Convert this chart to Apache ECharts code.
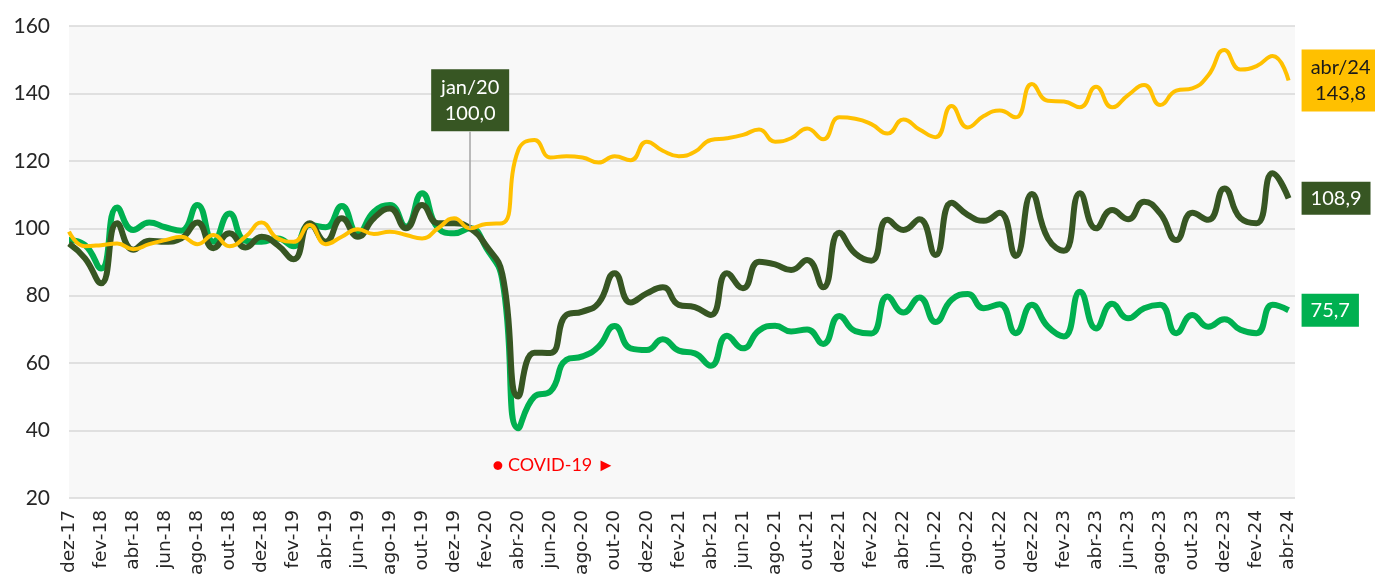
<!DOCTYPE html>
<html>
<head>
<meta charset="utf-8">
<script src="https://cdn.jsdelivr.net/npm/echarts@6/dist/echarts.min.js"></script>
<style>html,body{margin:0;padding:0;background:#fff;}#c{width:1375px;height:584px;}</style>
</head>
<body>
<div id="c"></div>
<script>
// Tick labels (every second month, dez-17 .. abr-24)
var tickLabels = ["dez-17","fev-18","abr-18","jun-18","ago-18","out-18","dez-18","fev-19","abr-19","jun-19","ago-19","out-19","dez-19","fev-20","abr-20","jun-20","ago-20","out-20","dez-20","fev-21","abr-21","jun-21","ago-21","out-21","dez-21","fev-22","abr-22","jun-22","ago-22","out-22","dez-22","fev-23","abr-23","jun-23","ago-23","out-23","dez-23","fev-24","abr-24"];

// Monthly index values (jan/20 = 100), dez-17 .. abr-24
var darkGreen = [95.5,91.1,83.7,101.5,93.6,96.3,96.0,97.0,101.7,94.1,98.5,94.3,97.5,95.0,90.8,101.5,96.0,103.0,97.5,103.0,105.9,100.0,106.9,101.5,101.5,100.0,94.8,86.5,50.1,63.1,63.0,74.3,75.3,77.8,86.7,78.0,80.7,82.5,77.3,76.6,74.3,86.7,82.2,90.1,89.3,87.6,90.6,82.5,98.7,92.5,90.4,102.5,99.5,102.7,92.1,107.6,104.0,102.2,104.6,91.8,110.2,97.0,93.3,110.4,100.0,105.4,102.7,107.9,104.4,96.5,104.6,102.5,111.8,103.0,101.5,116.3,108.9];
var brightGreen = [96.5,95.0,88.1,106.2,99.5,101.7,100.3,99.3,106.9,96.0,104.4,96.3,96.0,97.0,94.7,101.0,100.3,106.6,98.5,104.9,106.9,100.5,110.4,100.0,98.5,100.0,94.2,84.7,40.7,50.1,51.6,61.0,62.0,64.9,71.0,64.4,63.9,67.1,63.7,62.9,59.2,68.1,64.4,69.7,71.1,69.4,70.0,65.7,74.0,69.5,68.8,79.8,75.0,79.5,72.2,78.8,80.5,76.3,77.5,68.9,77.3,70.8,67.9,81.2,70.3,77.6,73.3,76.3,77.3,68.9,74.3,70.8,73.0,69.9,68.9,77.3,75.7];
var yellow = [99.0,94.7,95.0,95.5,93.8,95.3,96.5,97.5,95.3,98.0,94.7,97.5,101.7,97.0,96.0,101.0,95.3,97.5,99.7,98.3,99.0,98.0,97.0,100.0,103.0,100.0,101.3,101.5,123.2,126.2,121.0,121.4,121.0,119.5,121.4,120.2,125.7,123.0,121.4,122.7,126.2,126.7,127.7,129.3,125.7,126.7,129.6,126.4,132.9,132.5,130.9,128.1,132.3,129.3,127.0,136.3,129.9,133.3,134.9,132.9,142.8,137.8,137.6,135.9,142.0,135.9,139.5,142.5,136.6,140.8,141.5,145.4,152.9,147.1,148.1,151.1,143.8];

// Annotation values
var baseIndex = 25, baseValue = 100;          // jan/20
var baseLabel = ['jan/20', '100,0'];
var covidLabel = '● COVID-19 ►';
var covidPos = [30.2, 29.8];
var endYellow = ['abr/24', '143,8'];
var endDark = '108,9';
var endBright = '75,7';

function pairs(arr){ return arr.map(function(v,i){ return [i, v]; }); }

var chart = echarts.init(document.getElementById('c'), null, {renderer:'canvas'});
var FONT = 'Lato';
chart.setOption({
  animation: false,
  backgroundColor: '#ffffff',
  grid: { left: 69, right: 80, top: 26, bottom: 86, show: true, backgroundColor: '#f8f8f8', borderWidth: 0 },
  xAxis: {
    type: 'value', min: 0, max: 76.4, interval: 2,
    axisLine: {show:false}, axisTick: {show:false}, splitLine: {show:false},
    axisLabel: {
      rotate: 90, margin: 12, fontFamily: 'DejaVu Sans', fontSize: 18.5, color: '#262626',
      showMaxLabel: false,
      formatter: function(v){ var k = Math.round(v); if (k % 2 !== 0 || Math.abs(v-k) > 1e-6) return ''; return tickLabels[k/2] || ''; }
    }
  },
  yAxis: {
    type: 'value', min: 20, max: 160, interval: 20,
    axisLine: {show:false}, axisTick: {show:false},
    splitLine: {lineStyle: {color: '#d9d9d9', width: 1.5}},
    axisLabel: { fontFamily: FONT, fontSize: 21, color: '#262626', margin: 19 }
  },
  series: [
    {
      name: 'Série verde', type: 'line', smooth: true, symbol: 'none',
      data: pairs(brightGreen), z: 2,
      lineStyle: {color: '#00B050', width: 6},
      itemStyle: {color: '#00B050'},
      endLabel: { show: true, distance: 13, formatter: endBright, backgroundColor: '#00B050', color: '#ffffff',
        fontFamily: FONT, fontSize: 20, padding: [7, 9, 6, 9] },
      markPoint: {
        silent: true, symbol: 'circle', symbolSize: 1, itemStyle: {color: 'transparent'},
        data: [{ coord: covidPos, label: { show: true, position: 'inside', formatter: covidLabel, color: '#FF0000', fontFamily: FONT, fontSize: 18 } }]
      }
    },
    {
      name: 'Série verde escura', type: 'line', smooth: true, symbol: 'none',
      data: pairs(darkGreen), z: 3,
      lineStyle: {color: '#375623', width: 6},
      itemStyle: {color: '#375623'},
      endLabel: { show: true, distance: 13, formatter: endDark, backgroundColor: '#375623', color: '#ffffff',
        fontFamily: FONT, fontSize: 20, padding: [7, 9, 6, 9] },
      markLine: {
        silent: true, symbol: ['none','none'], label: {show:false},
        lineStyle: {color: '#a6a6a6', width: 1.5, type: 'solid'},
        data: [[{coord: [baseIndex, baseValue]}, {coord: [baseIndex, 128.6]}]]
      },
      markPoint: {
        silent: true, symbol: 'circle', symbolSize: 1, itemStyle: {color: 'transparent'},
        data: [{ coord: [baseIndex, 128.6], label: { show: true, position: 'top', distance: 0,
          formatter: '{a|' + baseLabel[0] + '}\n{a|' + baseLabel[1] + '}',
          backgroundColor: '#375623', padding: [5, 10, 5, 10],
          rich: { a: { color: '#ffffff', fontFamily: FONT, fontSize: 20, lineHeight: 26, width: 58, align: 'center' } } } }]
      }
    },
    {
      name: 'Série amarela', type: 'line', smooth: true, symbol: 'none',
      data: pairs(yellow), z: 4,
      lineStyle: {color: '#FFC000', width: 4},
      itemStyle: {color: '#FFC000'},
      endLabel: { show: true, distance: 13,
        formatter: '{a|' + endYellow[0] + '}\n{a|' + endYellow[1] + '}',
        backgroundColor: '#FFC000', padding: [5, 8, 5, 8],
        rich: { a: { color: '#1a1a1a', fontFamily: FONT, fontSize: 20, lineHeight: 26, width: 62, align: 'center' } } }
    }
  ]
});
</script>
</body>
</html>
